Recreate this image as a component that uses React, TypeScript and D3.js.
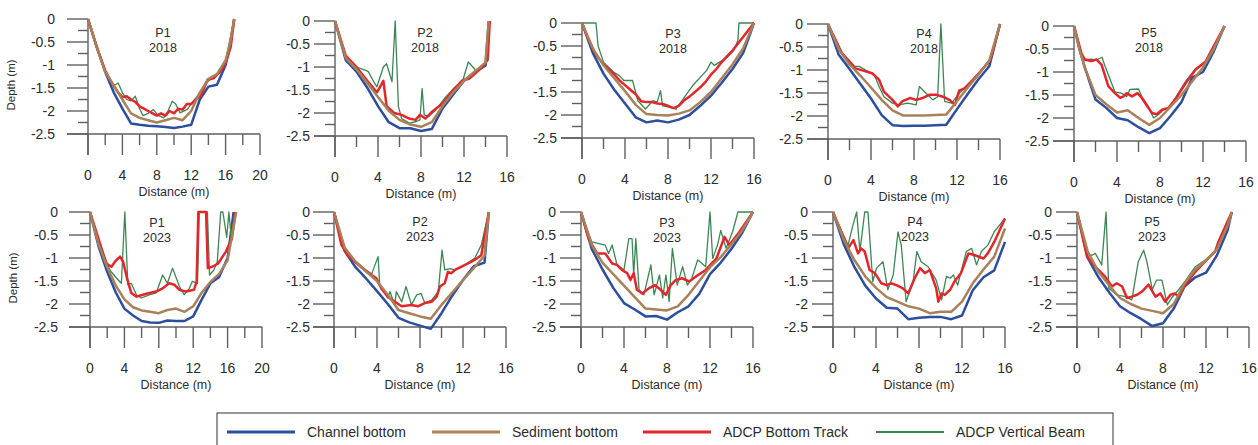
import React from 'react';
import * as d3 from 'd3';

type Pt = [number, number];

// ---------- P1 2018 ----------
const p1_2018_channel: Pt[] = [[0, 0], [1, -0.6], [2, -1.15], [3, -1.6], [4, -1.95], [5, -2.27], [6, -2.3], [7, -2.32], [8, -2.33], [9, -2.35], [10, -2.37], [11, -2.34], [12, -2.3], [13, -1.75], [14, -1.47], [15, -1.43], [16, -1.0], [16.5, -0.6], [17, 0]];
const p1_2018_sediment: Pt[] = [[0, 0], [1, -0.6], [2, -1.15], [3, -1.45], [4, -1.75], [5, -2.05], [6, -2.15], [7, -2.2], [8, -2.25], [9, -2.2], [10, -2.15], [11, -2.2], [12, -2.0], [13, -1.6], [14, -1.3], [15, -1.2], [16, -0.9], [16.5, -0.55], [17, 0]];
const p1_2018_bt: Pt[] = [[0, 0], [1, -0.6], [2, -1.12], [2.5, -1.3], [3, -1.45], [3.5, -1.6], [4, -1.7], [4.5, -1.68], [5, -1.75], [5.5, -1.8], [6, -1.9], [6.5, -1.95], [7, -2.0], [7.5, -2.05], [8, -2.1], [8.5, -2.05], [9, -2.1], [9.5, -2.0], [10, -2.05], [10.5, -1.95], [11, -1.97], [11.5, -1.85], [12, -1.85], [12.5, -1.75], [13.1, -1.68], [13.9, -1.32], [14.6, -1.29], [15.4, -1.14], [16, -0.95], [16.6, -0.6], [17, 0]];
const p1_2018_vb: Pt[] = [[0, 0], [1, -0.6], [2, -1.12], [3, -1.45], [3.5, -1.39], [4, -1.6], [4.5, -1.75], [5, -1.78], [5.5, -1.68], [6, -1.95], [6.4, -2.1], [7, -2.05], [7.6, -1.97], [8.2, -2.1], [8.8, -2.15], [9.3, -2.0], [9.8, -1.79], [10.2, -1.85], [10.7, -2.04], [11.5, -1.97], [12, -1.85], [13, -1.6], [13.5, -1.45], [14, -1.35], [14.5, -1.25], [15, -1.2], [16, -0.9], [17, 0]];

// ---------- P2 2018 ----------
const p2_2018_channel: Pt[] = [[0, 0], [1, -0.85], [2, -1.1], [3, -1.45], [4, -1.85], [5, -2.2], [6, -2.33], [7, -2.33], [8, -2.39], [9, -2.35], [10, -1.9], [11, -1.6], [12, -1.3], [13, -1.1], [14, -0.97], [14.3, 0]];
const p2_2018_sediment: Pt[] = [[0, 0], [1, -0.8], [2, -1.05], [3, -1.35], [4, -1.65], [5, -1.95], [6, -2.15], [7, -2.25], [8, -2.3], [9, -2.2], [10, -1.85], [11, -1.55], [12, -1.3], [13, -1.1], [14, -0.9], [14.3, 0]];
const p2_2018_bt: Pt[] = [[0, 0], [1, -0.75], [2, -1.0], [3, -1.3], [3.9, -1.55], [4.5, -1.3], [4.8, -1.85], [5.5, -2.0], [6.2, -2.04], [6.9, -2.12], [7.5, -2.15], [7.9, -2.04], [8.4, -2.12], [8.9, -2.0], [9.4, -1.9], [10, -1.8], [11, -1.5], [11.8, -1.3], [12.5, -1.25], [13.7, -1.0], [14.2, -0.85], [14.4, 0]];
const p2_2018_vb: Pt[] = [[0, 0], [1, -0.78], [2, -1.0], [2.8, -1.07], [3.1, -1.1], [3.6, -1.32], [3.9, -1.43], [4.5, -1.0], [4.8, -0.93], [5.3, -1.32], [5.6, 0], [5.9, -1.86], [6.2, -2.12], [6.9, -2.22], [7.5, -2.19], [7.9, -2.15], [8.1, -1.47], [8.3, -2.04], [8.7, -2.08], [9.35, -1.94], [10.3, -1.65], [11.2, -1.43], [11.8, -1.36], [12.4, -0.89], [13.1, -1.07], [14, -0.92], [14.3, 0]];

// ---------- P3 2018 ----------
const p3_2018_channel: Pt[] = [[0, 0], [1, -0.65], [2, -1.1], [3, -1.45], [4, -1.75], [5, -2.05], [6, -2.16], [7, -2.12], [8, -2.16], [9, -2.1], [10, -2.0], [11, -1.8], [12, -1.58], [13, -1.3], [14, -1.0], [15, -0.65], [16, 0]];
const p3_2018_sediment: Pt[] = [[0, 0], [1, -0.55], [2, -0.92], [3, -1.2], [4, -1.48], [5, -1.78], [6, -1.98], [7, -2.0], [8, -2.01], [9, -1.97], [10, -1.9], [11, -1.72], [12, -1.5], [13, -1.2], [14, -0.9], [15, -0.55], [16, 0]];
const p3_2018_bt: Pt[] = [[0, 0], [0.5, -0.3], [1.2, -0.65], [2, -0.9], [3, -1.12], [3.5, -1.25], [4, -1.35], [4.5, -1.45], [5, -1.55], [5.5, -1.7], [6, -1.72], [6.5, -1.72], [7, -1.75], [7.5, -1.76], [8, -1.8], [8.5, -1.85], [9, -1.8], [9.5, -1.68], [10, -1.6], [10.5, -1.5], [11, -1.4], [11.5, -1.28], [12, -1.12], [12.5, -1.0], [13, -0.85], [13.5, -0.72], [14, -0.6], [14.5, -0.45], [15, -0.3], [16, 0]];
const p3_2018_vb: Pt[] = [[0, 0], [1.3, 0], [1.5, -0.5], [2, -0.85], [3, -1.08], [3.5, -1.15], [3.9, -1.25], [4.7, -1.25], [5.2, -1.69], [5.9, -1.87], [6.6, -1.69], [7.0, -1.72], [7.3, -1.47], [7.5, -1.8], [8.1, -1.83], [8.75, -1.87], [9.2, -1.72], [10.3, -1.36], [11.6, -1.03], [12, -0.85], [12.3, -0.92], [12.8, -0.85], [13.5, -0.75], [14.1, -0.6], [14.5, -0.38], [14.6, 0], [16, 0]];

// ---------- P4 2018 ----------
const p4_2018_channel: Pt[] = [[0, 0], [1, -0.67], [2, -0.98], [3, -1.3], [4, -1.62], [5, -1.98], [6, -2.2], [7, -2.22], [8, -2.21], [9, -2.21], [10, -2.2], [11, -2.19], [12, -1.85], [13, -1.52], [14, -1.2], [15, -0.92], [16, 0]];
const p4_2018_sediment: Pt[] = [[0, 0], [1, -0.55], [2, -0.88], [3, -1.12], [4, -1.38], [5, -1.65], [6, -1.88], [7, -1.99], [8, -1.99], [9, -1.99], [10, -1.98], [11, -1.97], [12, -1.68], [13, -1.38], [14, -1.1], [15, -0.8], [16, 0]];
const p4_2018_bt: Pt[] = [[0, 0], [1.3, -0.64], [2.5, -0.96], [3.5, -1.03], [4.1, -1.07], [4.75, -1.21], [5.2, -1.47], [6, -1.65], [6.5, -1.79], [6.9, -1.68], [7.6, -1.61], [8.2, -1.65], [8.8, -1.61], [9.4, -1.54], [10.1, -1.54], [10.7, -1.58], [11.3, -1.65], [11.8, -1.76], [12.2, -1.45], [12.7, -1.4], [13.5, -1.21], [14.3, -1.0], [15.1, -0.78], [16, 0]];
const p4_2018_vb: Pt[] = [[0, 0], [1.3, -0.62], [2.5, -0.92], [2.9, -0.92], [3.5, -1.0], [4.3, -1.1], [4.75, -1.36], [5.2, -1.58], [6, -1.72], [6.6, -1.76], [7.4, -1.72], [8.2, -1.76], [8.5, -1.36], [9.1, -1.5], [9.75, -1.65], [10.2, -1.58], [10.5, 0], [10.85, -1.68], [11.5, -1.72], [12.25, -1.5], [12.7, -1.39], [13.5, -1.2], [14.3, -1.0], [15.1, -0.78], [16, 0]];

// ---------- P5 2018 ----------
const p5_2018_channel: Pt[] = [[0, 0], [0.5, -0.5], [1, -0.9], [2, -1.6], [3, -1.78], [4, -2.0], [5, -2.05], [6, -2.2], [7, -2.33], [8, -2.22], [9, -1.95], [10, -1.65], [11, -1.12], [12, -1.0], [13, -0.55], [14, 0]];
const p5_2018_sediment: Pt[] = [[0, 0], [0.5, -0.5], [1, -0.9], [2, -1.5], [3, -1.7], [4, -1.88], [5, -1.83], [6, -2.0], [7, -2.15], [8, -2.0], [9, -1.75], [10, -1.5], [11, -1.2], [12, -0.9], [13, -0.5], [14, 0]];
const p5_2018_bt: Pt[] = [[0, 0], [0.7, -0.6], [1, -0.73], [1.6, -0.76], [2.1, -0.73], [2.56, -0.84], [3.2, -1.31], [3.8, -1.46], [4.3, -1.56], [4.6, -1.53], [4.9, -1.46], [5.4, -1.53], [5.9, -1.46], [6.3, -1.56], [6.8, -1.74], [7.25, -1.89], [7.7, -1.92], [8.2, -1.82], [8.8, -1.78], [9.4, -1.6], [10.4, -1.24], [11.3, -0.95], [12.25, -0.77], [14, 0]];
const p5_2018_vb: Pt[] = [[0, 0], [0.7, -0.6], [1, -0.73], [1.6, -0.72], [2.1, -0.74], [2.6, -0.68], [2.9, -0.88], [3.8, -1.43], [4.4, -1.46], [4.9, -1.53], [5.2, -1.38], [6, -1.37], [6.3, -1.53], [6.9, -1.74], [7.4, -2.0], [7.9, -1.92], [8.3, -1.82], [8.8, -1.8], [9.4, -1.58], [10.4, -1.2], [11.3, -0.93], [12.25, -0.77], [14, 0]];

// ---------- P1 2023 ----------
const p1_2023_channel: Pt[] = [[0, 0], [1, -0.75], [2, -1.3], [3, -1.75], [4, -2.1], [5, -2.25], [6, -2.37], [7, -2.4], [8, -2.41], [9, -2.36], [10, -2.37], [11, -2.37], [12, -2.27], [13, -1.9], [14, -1.55], [15, -1.42], [16, -1.0], [16.7, 0]];
const p1_2023_sediment: Pt[] = [[0, 0], [1, -0.7], [2, -1.2], [3, -1.6], [4, -1.9], [5, -2.07], [6, -2.14], [7, -2.17], [8, -2.2], [9, -2.13], [10, -2.1], [11, -2.17], [12, -2.05], [13, -1.75], [14, -1.52], [15, -1.35], [16, -1.05], [17, 0]];
const p1_2023_bt: Pt[] = [[0, 0], [1.1, -0.65], [1.9, -1.12], [2.5, -1.19], [2.9, -1.08], [3.5, -0.97], [3.85, -1.08], [4.4, -1.51], [4.8, -1.76], [5.4, -1.84], [6.15, -1.8], [6.9, -1.76], [7.7, -1.73], [8.45, -1.66], [9.2, -1.55], [9.8, -1.58], [10.4, -1.69], [11.15, -1.73], [12.1, -1.69], [12.4, -1.5], [12.6, 0], [13.5, 0], [13.7, -1.22], [14.2, -1.19], [14.9, -1.12], [15.8, -0.86], [16.5, -0.58], [16.9, 0]];
const p1_2023_vb: Pt[] = [[0, 0], [1.1, -0.68], [2.3, -1.26], [3.1, -1.44], [3.65, -1.55], [4.05, 0], [4.4, -1.58], [4.8, -1.55], [5.4, -1.8], [5.95, -1.87], [6.9, -1.8], [7.7, -1.76], [8.45, -1.37], [9, -1.55], [9.6, -1.22], [10.4, -1.62], [10.95, -1.8], [11.55, -1.66], [11.9, -1.51], [12.5, -1.55], [12.7, 0], [13.65, 0], [13.9, -1.37], [14.4, -1.26], [14.8, -1.08], [15.2, 0], [15.45, 0], [15.9, -0.55], [16.15, 0], [16.4, -0.5], [16.9, 0]];

// ---------- P2 2023 ----------
const p2_2023_channel: Pt[] = [[0, 0], [1, -0.85], [2, -1.2], [3, -1.45], [4, -1.72], [5, -2.0], [6, -2.3], [7, -2.4], [8, -2.47], [9, -2.54], [10, -2.2], [11, -1.82], [12, -1.48], [13, -1.18], [14, -1.1], [14.4, 0]];
const p2_2023_sediment: Pt[] = [[0, 0], [1, -0.78], [2, -1.08], [3, -1.3], [4, -1.5], [5, -1.8], [6, -2.13], [7, -2.2], [8, -2.27], [9, -2.32], [10, -2.02], [11, -1.75], [12, -1.48], [13, -1.22], [14, -0.95], [14.4, 0]];
const p2_2023_bt: Pt[] = [[0, 0], [0.7, -0.72], [1.3, -0.94], [1.93, -1.08], [2.86, -1.26], [3.5, -1.37], [3.95, -1.44], [4.4, -1.66], [5, -1.84], [5.65, -1.95], [6.3, -2.05], [7.2, -2.02], [7.8, -2.05], [8.45, -1.98], [9.1, -1.95], [9.55, -1.84], [9.85, -1.62], [10.3, -1.55], [10.6, -1.3], [10.9, -1.33], [11.25, -1.26], [12.2, -1.15], [13.1, -1.04], [13.7, -0.94], [14.4, 0]];
const p2_2023_vb: Pt[] = [[0, 0], [0.7, -0.7], [1.3, -0.9], [1.93, -1.05], [2.86, -1.24], [3.5, -1.35], [4.1, -0.97], [4.25, -1.58], [5, -1.87], [5.2, -1.73], [5.65, -2.02], [5.8, -1.73], [6.3, -1.95], [6.7, -1.62], [7.2, -2.02], [7.7, -1.8], [8.1, -1.77], [8.45, -1.98], [9.1, -1.91], [9.7, -1.73], [10.05, -0.83], [10.3, -1.26], [10.8, -1.23], [11.25, -1.26], [12.2, -1.15], [13.1, -1.0], [13.7, -0.72], [14.4, 0]];

// ---------- P3 2023 ----------
const p3_2023_channel: Pt[] = [[0, 0], [1, -0.8], [2, -1.25], [3, -1.65], [4, -1.98], [5, -2.12], [6, -2.27], [7, -2.26], [8, -2.34], [9, -2.18], [10, -2.05], [11, -1.78], [12, -1.35], [13, -1.1], [14, -0.8], [15, -0.45], [16, 0]];
const p3_2023_sediment: Pt[] = [[0, 0], [1, -0.72], [2, -1.1], [3, -1.35], [4, -1.6], [5, -1.85], [6, -2.1], [7, -2.12], [8, -2.14], [9, -2.05], [10, -1.8], [11, -1.5], [12, -1.2], [13, -0.98], [14, -0.7], [15, -0.4], [16, 0]];
const p3_2023_bt: Pt[] = [[0, 0], [0.7, -0.58], [1.5, -0.9], [2.25, -0.9], [2.9, -1.12], [3.35, -1.15], [3.8, -1.26], [4.3, -1.33], [4.6, -1.48], [4.9, -1.33], [5.2, -1.69], [5.7, -1.77], [6.3, -1.66], [6.9, -1.59], [7.4, -1.69], [7.9, -1.8], [8.35, -1.59], [8.8, -1.48], [9.4, -1.44], [10.06, -1.51], [10.7, -1.4], [11.6, -1.26], [12.6, -1.01], [13.35, -0.54], [13.8, -0.72], [14.75, -0.43], [16, 0]];
const p3_2023_vb: Pt[] = [[0, 0], [1, -0.65], [2.25, -0.72], [2.56, -0.9], [2.9, -0.72], [3.35, -1.15], [4, -1.26], [4.45, -0.58], [4.75, -0.58], [4.9, -1.37], [5.1, -0.58], [5.4, -1.69], [5.85, -1.8], [6.5, -1.15], [6.8, -1.8], [7.3, -1.37], [7.6, -1.87], [7.9, -1.37], [8.2, -1.95], [8.5, -0.79], [8.95, -1.59], [9.45, -1.19], [9.9, -1.59], [10.3, -1.45], [10.85, -1.04], [11.6, -1.19], [12, 0], [12.25, -1.01], [12.7, -0.72], [13, -0.4], [13.5, -0.79], [14.1, -0.43], [14.6, 0], [16, 0]];

// ---------- P4 2023 ----------
const p4_2023_channel: Pt[] = [[0, 0], [1, -0.7], [2, -1.2], [3, -1.6], [4, -1.88], [5, -2.08], [6, -2.1], [7, -2.33], [8, -2.3], [9, -2.28], [10, -2.28], [11, -2.33], [12, -2.25], [13, -1.7], [14, -1.42], [15, -1.27], [16, -0.65]];
const p4_2023_sediment: Pt[] = [[0, 0], [1, -0.6], [2, -1.05], [3, -1.4], [4, -1.65], [5, -1.85], [6, -1.95], [7, -2.05], [8, -2.1], [9, -2.2], [10, -2.17], [11, -2.17], [12, -1.95], [13, -1.55], [14, -1.25], [15, -0.97], [16, -0.36]];
const p4_2023_bt: Pt[] = [[0, 0], [1.4, -0.79], [1.9, -0.61], [2.33, -0.9], [2.6, -0.79], [2.95, -0.86], [3.4, -1.26], [3.9, -1.33], [4.5, -1.55], [5, -1.59], [5.4, -1.55], [5.9, -1.59], [6.5, -1.66], [7, -1.77], [7.6, -1.44], [8.1, -1.22], [8.55, -1.33], [9, -1.26], [9.6, -1.66], [9.8, -1.95], [10.1, -1.77], [10.4, -1.8], [10.9, -1.69], [11.3, -1.51], [11.9, -1.33], [12.6, -0.9], [13.2, -0.94], [14, -1.01], [14.4, -0.9], [15, -0.65], [16, -0.14]];
const p4_2023_vb: Pt[] = [[0, 0], [1.4, -0.72], [1.85, -0.29], [2.2, 0], [2.5, -0.86], [2.95, 0], [3.25, 0], [3.7, -1.51], [4.05, -1.22], [4.65, -1.08], [5.1, -1.69], [5.6, -1.37], [6.05, -0.43], [6.35, -0.72], [6.8, -1.95], [7.45, -1.51], [7.8, -0.86], [8.2, -1.08], [8.85, -1.19], [9.6, -1.48], [10.1, -1.91], [10.55, -1.4], [10.9, -1.44], [11.2, -1.37], [11.6, -1.59], [12.4, -0.86], [12.9, -0.79], [13.35, -1.15], [13.8, -0.86], [14.4, -0.72], [15, -0.43], [16, -0.14]];

// ---------- P5 2023 ----------
const p5_2023_channel: Pt[] = [[0, 0], [1, -1.0], [2, -1.42], [3, -1.75], [4, -2.05], [5, -2.2], [6, -2.33], [7, -2.48], [8, -2.42], [9, -2.1], [10, -1.62], [11, -1.42], [12, -1.32], [13, -0.95], [14, -0.4], [14.4, 0]];
const p5_2023_sediment: Pt[] = [[0, 0], [1, -0.86], [2, -1.3], [3, -1.6], [4, -1.87], [5, -2.0], [6, -2.1], [7, -2.15], [8, -2.2], [9, -2.0], [10, -1.55], [11, -1.25], [12, -1.05], [13, -0.82], [14, -0.3], [14.4, 0]];
const p5_2023_bt: Pt[] = [[0, 0], [0.93, -0.97], [1.7, -1.19], [2.6, -1.4], [3.25, -1.62], [3.7, -1.55], [4.2, -1.62], [4.65, -1.87], [5.1, -1.84], [5.6, -1.8], [6.05, -1.73], [6.65, -1.58], [7.3, -1.84], [7.75, -1.77], [8.2, -1.95], [8.7, -1.8], [9.1, -1.77], [9.45, -1.84], [10.05, -1.59], [11, -1.3], [11.9, -1.08], [12.85, -0.86], [13.15, -0.65], [14.4, 0]];
const p5_2023_vb: Pt[] = [[0, 0], [0.93, -0.92], [1.4, -0.94], [1.7, -0.9], [2.3, -1.15], [2.7, 0], [2.95, -1.66], [3.7, -1.8], [4.5, -1.84], [5.1, -1.91], [5.7, -1.08], [6.2, -0.83], [6.5, -1.08], [7, -1.69], [7.4, -1.48], [7.9, -1.48], [8.4, -2.02], [8.8, -1.87], [9.45, -1.69], [10.05, -1.51], [11, -1.19], [11.9, -1.05], [12.85, -0.85], [14.4, 0]];

const seriesKeys = ['channel', 'sediment', 'vb', 'bt', 'sedimentTop'];
const seriesLabels = ['Channel bottom', 'Sediment bottom', 'ADCP Bottom Track', 'ADCP Vertical Beam'];
const seriesColors = ['#2c4e9e', '#a98158', '#e3262b', '#3c8654'];
const seriesWidths = [2.5, 2.5, 2.5, 1.3];

const panels = [
  { name: 'P1', year: '2018', xMax: 20, left: 88, top: 19, titleX: 75, titleY: 32, labelGap: 33, depth: true, lines: [p1_2018_channel, p1_2018_sediment, p1_2018_bt, p1_2018_vb] },
  { name: 'P2', year: '2018', xMax: 16, left: 335, top: 21, titleX: 90, titleY: 32, labelGap: 25, depth: false, lines: [p2_2018_channel, p2_2018_sediment, p2_2018_bt, p2_2018_vb] },
  { name: 'P3', year: '2018', xMax: 16, left: 582, top: 23, titleX: 91, titleY: 33, labelGap: 25, depth: false, lines: [p3_2018_channel, p3_2018_sediment, p3_2018_bt, p3_2018_vb] },
  { name: 'P4', year: '2018', xMax: 16, left: 828, top: 24, titleX: 96, titleY: 33, labelGap: 25, depth: false, lines: [p4_2018_channel, p4_2018_sediment, p4_2018_bt, p4_2018_vb] },
  { name: 'P5', year: '2018', xMax: 16, left: 1074, top: 26, titleX: 75, titleY: 32, labelGap: 25, depth: false, lines: [p5_2018_channel, p5_2018_sediment, p5_2018_bt, p5_2018_vb] },
  { name: 'P1', year: '2023', xMax: 20, left: 90, top: 212, titleX: 67, titleY: 222, labelGap: 32, depth: true, lines: [p1_2023_channel, p1_2023_sediment, p1_2023_bt, p1_2023_vb] },
  { name: 'P2', year: '2023', xMax: 16, left: 334, top: 212, titleX: 86, titleY: 221, labelGap: 24, depth: false, lines: [p2_2023_channel, p2_2023_sediment, p2_2023_bt, p2_2023_vb] },
  { name: 'P3', year: '2023', xMax: 16, left: 581, top: 212, titleX: 86, titleY: 222, labelGap: 25, depth: false, lines: [p3_2023_channel, p3_2023_sediment, p3_2023_bt, p3_2023_vb] },
  { name: 'P4', year: '2023', xMax: 16, left: 833, top: 212, titleX: 82, titleY: 221, labelGap: 25, depth: false, lines: [p4_2023_channel, p4_2023_sediment, p4_2023_bt, p4_2023_vb] },
  { name: 'P5', year: '2023', xMax: 16, left: 1077, top: 212, titleX: 75, titleY: 221, labelGap: 25, depth: false, lines: [p5_2023_channel, p5_2023_sediment, p5_2023_bt, p5_2023_vb] },
];

const W = 172;
const H = 115;
const axisColor = '#5f5f5f';
const textColor = '#2b2b2b';
const font = "'Liberation Sans', Arial, sans-serif";
// draw order: channel, vertical beam, bottom track, sediment
const drawOrder = [0, 3, 2, 1];

function Panel({ p }: { p: any }) {
  const x = d3.scaleLinear().domain([0, p.xMax]).range([p.left, p.left + W]);
  const y = d3.scaleLinear().domain([0, -2.5]).range([p.top, p.top + H]);
  const line = d3.line<Pt>().x((d) => x(d[0])).y((d) => y(d[1]));
  const bottom = y(-2.5);
  const xTicks = d3.range(0, p.xMax + 0.001, 2);
  const yTicks = d3.range(0, -2.5001, -0.25);
  const isMajorY = (v: number) => Math.abs(v * 2 - Math.round(v * 2)) < 1e-6;

  return (
    <g>
      {/* axes */}
      <line x1={p.left} x2={p.left} y1={p.top} y2={bottom + 21} stroke={axisColor} strokeWidth={1.4} />
      <line x1={p.left - 21} x2={x(p.xMax)} y1={bottom} y2={bottom} stroke={axisColor} strokeWidth={1.4} />
      {yTicks.map((v) => (
        <g key={'y' + v}>
          <line x1={p.left - (isMajorY(v) ? 21 : 10)} x2={p.left} y1={y(v)} y2={y(v)} stroke={axisColor} strokeWidth={1.4} />
          {isMajorY(v) && (
            <text x={p.left - p.labelGap} y={y(v)} dy="0.36em" textAnchor="end" fontSize={14} fill={textColor} fontFamily={font}>
              {String(Math.round(v * 10) / 10)}
            </text>
          )}
        </g>
      ))}
      {xTicks.map((v) => (
        <g key={'x' + v}>
          <line x1={x(v)} x2={x(v)} y1={bottom} y2={bottom + (v % 4 === 0 ? 21 : 11)} stroke={axisColor} strokeWidth={1.4} />
          {v % 4 === 0 && (
            <text x={x(v)} y={bottom + 46} textAnchor="middle" fontSize={14} fill={textColor} fontFamily={font}>
              {v}
            </text>
          )}
        </g>
      ))}
      <text x={p.left + W / 2} y={bottom + 62} textAnchor="middle" fontSize={12.5} fill={textColor} fontFamily={font}>
        Distance (m)
      </text>
      {p.depth && (
        <text
          transform={`translate(${p.left - 73},${p.top + 66}) rotate(-90)`}
          textAnchor="middle"
          fontSize={11.5}
          fill={textColor}
          fontFamily={font}
        >
          Depth (m)
        </text>
      )}
      {/* series */}
      {drawOrder.map((i) => (
        <path
          key={i}
          d={line(p.lines[i]) || ''}
          fill="none"
          stroke={seriesColors[i]}
          strokeWidth={seriesWidths[i]}
          strokeLinejoin="round"
        />
      ))}
      {/* title */}
      <text x={p.left + p.titleX} y={p.titleY} dy="0.36em" textAnchor="middle" fontSize={12.5} fill={textColor} fontFamily={font}>
        {p.name}
      </text>
      <text x={p.left + p.titleX} y={p.titleY + 15} dy="0.36em" textAnchor="middle" fontSize={12.5} fill={textColor} fontFamily={font}>
        {p.year}
      </text>
    </g>
  );
}

const legendStarts = [227, 432, 643, 876];

export default function App() {
  return (
    <svg
      width={1258}
      height={445}
      style={{ position: 'absolute', left: 0, top: 0, background: '#fff' }}
    >
      {panels.map((p, i) => (
        <Panel key={i} p={p} />
      ))}
      <rect x={217} y={413} width={896} height={60} fill="none" stroke="#333" strokeWidth={1} />
      {seriesLabels.map((label, i) => (
        <g key={label}>
          <line
            x1={legendStarts[i]}
            x2={legendStarts[i] + 68}
            y1={432}
            y2={432}
            stroke={seriesColors[i]}
            strokeWidth={seriesWidths[i] + 0.5}
          />
          <text x={legendStarts[i] + 80} y={432} dy="0.36em" fontSize={14} fill={textColor} fontFamily={font}>
            {label}
          </text>
        </g>
      ))}
    </svg>
  );
}
